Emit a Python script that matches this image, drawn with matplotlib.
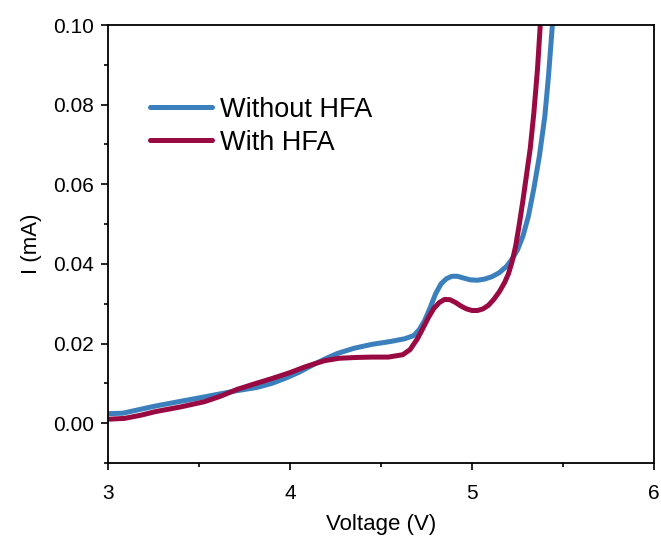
import matplotlib
matplotlib.use('Agg')
import matplotlib.pyplot as plt
from matplotlib.ticker import MultipleLocator

plt.rcParams['font.family'] = ['Liberation Sans', 'DejaVu Sans']

# Without HFA (blue)
v_without = [3.00, 3.08, 3.15, 3.26, 3.40, 3.53, 3.62, 3.70, 3.82, 3.90,
             3.97, 4.05, 4.12, 4.20, 4.26, 4.35, 4.45, 4.55, 4.63, 4.68,
             4.71, 4.74, 4.77, 4.80, 4.83, 4.86, 4.89, 4.92, 4.95, 4.99,
             5.03, 5.07, 5.11, 5.15, 5.19, 5.22, 5.25, 5.28, 5.31, 5.34,
             5.37, 5.40, 5.42, 5.44, 5.45]
i_without = [0.0024, 0.0025, 0.0032, 0.0043, 0.0055, 0.0066, 0.0074, 0.0081, 0.0090, 0.0100,
             0.0112, 0.0128, 0.0145, 0.0163, 0.0175, 0.0188, 0.0198, 0.0205, 0.0212, 0.0220,
             0.0235, 0.0258, 0.0290, 0.0325, 0.0350, 0.0363, 0.0369, 0.0369, 0.0365, 0.0360,
             0.0359, 0.0362, 0.0368, 0.0378, 0.0394, 0.0412, 0.0435, 0.0470, 0.0520, 0.0590,
             0.0670, 0.0770, 0.0870, 0.0990, 0.1050]

# With HFA (red)
v_with = [3.00, 3.09, 3.18, 3.26, 3.40, 3.53, 3.62, 3.71, 3.80, 3.90,
          4.00, 4.08, 4.14, 4.19, 4.27, 4.36, 4.45, 4.54, 4.62, 4.66,
          4.70, 4.73, 4.76, 4.79, 4.82, 4.85, 4.88, 4.91, 4.94, 4.97,
          5.00, 5.03, 5.06, 5.09, 5.12, 5.15, 5.18, 5.20, 5.22, 5.24,
          5.26, 5.28, 5.30, 5.32, 5.34, 5.36, 5.375, 5.38]
i_with = [0.0010, 0.0012, 0.0020, 0.0029, 0.0041, 0.0054, 0.0068, 0.0085, 0.0098, 0.0112,
          0.0127, 0.0141, 0.0150, 0.0157, 0.0163, 0.0165, 0.0166, 0.0166, 0.0172, 0.0185,
          0.0212, 0.0238, 0.0265, 0.0288, 0.0303, 0.0311, 0.0310, 0.0303, 0.0294, 0.0287,
          0.0283, 0.0283, 0.0287, 0.0296, 0.0311, 0.0330, 0.0354, 0.0375, 0.0405, 0.0445,
          0.0500, 0.0560, 0.0625, 0.0690, 0.0780, 0.0890, 0.1000, 0.1050]

fig = plt.figure(figsize=(6.61, 5.38), dpi=100)
ax = fig.add_axes([0.1634, 0.1394, 0.8260, 0.8141])

ax.plot(v_without, i_without, color='#3b80bd', lw=3.6, label='Without HFA',
        solid_capstyle='round', solid_joinstyle='round')
ax.plot(v_with, i_with, color='#990a42', lw=3.6, label='With HFA',
        solid_capstyle='round', solid_joinstyle='round')

ax.set_xlim(3, 6)
ax.set_ylim(-0.01, 0.10)
ax.xaxis.set_major_locator(MultipleLocator(1))
ax.xaxis.set_minor_locator(MultipleLocator(0.5))
ax.yaxis.set_major_locator(MultipleLocator(0.02))
ax.yaxis.set_minor_locator(MultipleLocator(0.01))
ax.yaxis.set_major_formatter(plt.FormatStrFormatter('%.2f'))

ax.tick_params(which='major', direction='out', length=5, width=1.2, labelsize=15, pad=5)
ax.tick_params(axis='x', which='major', pad=10)
ax.tick_params(which='minor', direction='out', length=3, width=1.2)
for s in ax.spines.values():
    s.set_linewidth(1.3)

ax.set_xlabel('Voltage (V)', fontsize=16, labelpad=8)
ax.set_ylabel('I (mA)', fontsize=16, labelpad=8)

ax.legend(loc='upper left', bbox_to_anchor=(0.077, 0.836), frameon=False,
          fontsize=19.5, borderpad=0, handlelength=2.3, handletextpad=0.3,
          labelspacing=0.25, borderaxespad=0)

fig.savefig('out.png', dpi=100)
